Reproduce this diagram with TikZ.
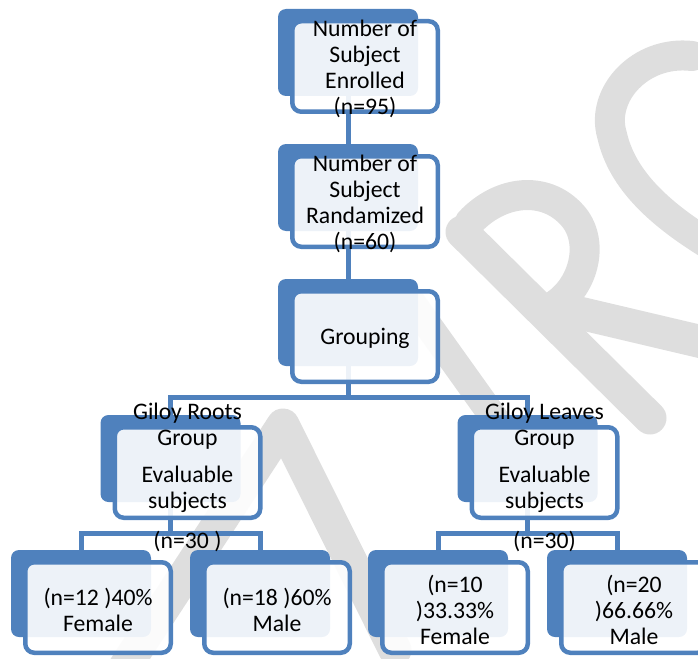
\documentclass[tikz,border=0pt]{standalone}
\usepackage{fontspec}
\setmainfont{Carlito}
\definecolor{sablue}{HTML}{4F81BD}
\definecolor{wmgrey}{HTML}{DEDEDE}
\begin{document}
\begin{tikzpicture}[x=1pt,y=-1pt,
  backbox/.style={fill=sablue, draw=none, rounded corners=8pt, minimum width=140pt, minimum height=87pt, inner sep=0pt},
  frontbox/.style={draw=sablue, line width=4.5pt, fill=white, fill opacity=0.9, rounded corners=9pt, minimum width=145.5pt, minimum height=90.5pt, inner sep=0pt},
  lbl/.style={font=\fontsize{23.7}{26}\selectfont, align=center, text=black, inner sep=0pt, yshift=-2pt},
  conn/.style={draw=sablue, line width=5pt},
  wm/.style={draw=wmgrey, line width=33pt, line cap=round, line join=round}]
\useasboundingbox (0,0) rectangle (698,658);
% watermark
\begin{scope}
\clip (0,0) rectangle (698,658);
\draw[wm, line width=30pt] (692,56) .. controls (640,50) and (600,95) .. (612,135) .. controls (622,180) and (660,215) .. (715,248);
\draw[wm] (462,232) -- (650,418);
\draw[wm, line width=30pt] (470,222) .. controls (500,190) and (545,185) .. (572,215) .. controls (595,240) and (585,285) .. (555,305);
\draw[wm] (575,312) -- (715,345);
\draw[wm] (110,690) -- (283,425) -- (395,650);
\draw[wm, line width=28pt] (410,300) -- (510,440);
\end{scope}
% back boxes
\node[backbox] (n1) at (348,52.5) {};
\node[backbox] (n2) at (348,187.5) {};
\node[backbox] (n3) at (348,322.5) {};
\node[backbox] (g1) at (170.5,458.5) {};
\node[backbox] (g2) at (527.5,458.5) {};
\node[backbox] (b1) at (81,593.5) {};
\node[backbox] (b2) at (260,593.5) {};
\node[backbox] (b3) at (438,593.5) {};
\node[backbox] (b4) at (617,593.5) {};
% connectors
\coordinate (j0) at (348,397);
\coordinate (j1) at (170.5,533);
\coordinate (j2) at (527.5,533);
\draw[conn] (n1.center) -- (n2.center);
\draw[conn] (n2.center) -- (n3.center);
\draw[conn] (n3.center) -- (j0);
\draw[conn] (j0) -| (g1.center);
\draw[conn] (j0) -| (g2.center);
\draw[conn] (g1.center) -- (j1);
\draw[conn] (j1) -| (b1.center);
\draw[conn] (j1) -| (b2.center);
\draw[conn] (g2.center) -- (j2);
\draw[conn] (j2) -| (b3.center);
\draw[conn] (j2) -| (b4.center);
% front boxes
\foreach \b in {n1,n2,n3,g1,g2,b1,b2,b3,b4}{
  \node[frontbox] (f\b) at ([shift={(17,14)}]\b.center) {};
}
% texts
\node[lbl] (t1) at (fn1.center) {Number of\\Subject\\Enrolled\\(n=95)};
\node[lbl] (t2) at (fn2.center) {Number of\\Subject\\Randamized\\(n=60)};
\node[lbl] (t3) at (fn3.center) {Grouping};
\node[lbl, yshift=-3pt] (t4) at (fg1.center) {Giloy Roots\\Group\\[11pt]Evaluable\\subjects\\[14pt](n=30 )};
\node[lbl, yshift=-3pt] (t5) at (fg2.center) {Giloy Leaves\\Group\\[11pt]Evaluable\\subjects\\[14pt](n=30)};
\node[lbl] (t6) at (fb1.center) {(n=12 )40\%\\Female};
\node[lbl] (t7) at (fb2.center) {(n=18 )60\%\\Male};
\node[lbl] (t8) at (fb3.center) {(n=10\\)33.33\%\\Female};
\node[lbl] (t9) at (fb4.center) {(n=20\\)66.66\%\\Male};
\end{tikzpicture}
\end{document}
